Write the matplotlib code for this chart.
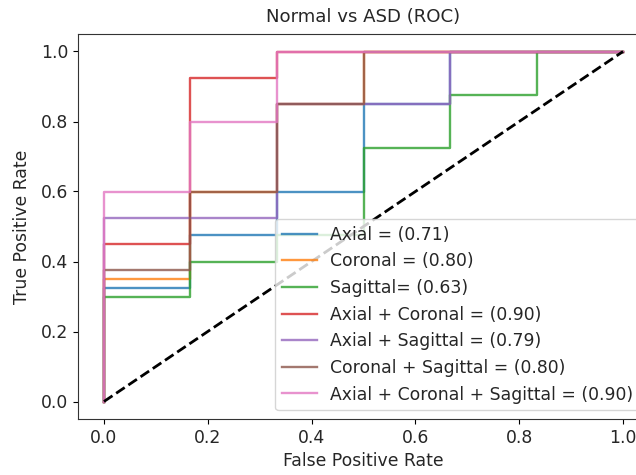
import matplotlib
matplotlib.use("Agg")
import matplotlib.pyplot as plt

# ROC step points (fpr, tpr)
labels = ['Axial = (0.71)', 'Coronal = (0.80)', 'Sagittal= (0.63)',
          'Axial + Coronal = (0.90)', 'Axial + Sagittal = (0.79)',
          'Coronal + Sagittal = (0.80)', 'Axial + Coronal + Sagittal = (0.90)']

fpr_axial = [0, 0, 1/6, 1/6, 1/3, 1/3, 1/2, 1/2, 2/3, 2/3, 1]
tpr_axial = [0, 0.325, 0.325, 0.475, 0.475, 0.6, 0.6, 0.85, 0.85, 1, 1]

fpr_coronal = [0, 0, 1/6, 1/6, 1/3, 1/3, 1/2, 1/2, 1]
tpr_coronal = [0, 0.35, 0.35, 0.6, 0.6, 0.85, 0.85, 1, 1]

fpr_sagittal = [0, 0, 1/6, 1/6, 1/3, 1/3, 1/2, 1/2, 2/3, 2/3, 5/6, 5/6, 1]
tpr_sagittal = [0, 0.3, 0.3, 0.4, 0.4, 0.475, 0.475, 0.725, 0.725, 0.875, 0.875, 1, 1]

fpr_ax_cor = [0, 0, 1/6, 1/6, 1/3, 1/3, 1]
tpr_ax_cor = [0, 0.45, 0.45, 0.925, 0.925, 1, 1]

fpr_ax_sag = [0, 0, 1/3, 1/3, 2/3, 2/3, 1]
tpr_ax_sag = [0, 0.525, 0.525, 0.85, 0.85, 1, 1]

fpr_cor_sag = [0, 0, 1/6, 1/6, 1/3, 1/3, 1/2, 1/2, 1]
tpr_cor_sag = [0, 0.375, 0.375, 0.6, 0.6, 0.85, 0.85, 1, 1]

fpr_all = [0, 0, 1/6, 1/6, 1/3, 1/3, 1]
tpr_all = [0, 0.6, 0.6, 0.8, 0.8, 1, 1]

curves = [(fpr_axial, tpr_axial), (fpr_coronal, tpr_coronal),
          (fpr_sagittal, tpr_sagittal), (fpr_ax_cor, tpr_ax_cor),
          (fpr_ax_sag, tpr_ax_sag), (fpr_cor_sag, tpr_cor_sag),
          (fpr_all, tpr_all)]

plt.rcParams['font.size'] = 12.4
plt.rcParams['text.color'] = '#262626'
plt.rcParams['xtick.labelcolor'] = '#262626'
plt.rcParams['ytick.labelcolor'] = '#262626'
plt.rcParams['axes.labelcolor'] = '#262626'
plt.rcParams['axes.edgecolor'] = '#333333'

fig = plt.figure(figsize=(6.36, 4.75), dpi=100)
ax = fig.add_axes([78/636, 56/475, 571/636, 385/475])

for (f, t), lab in zip(curves, labels):
    ax.plot(f, t, lw=1.7, alpha=0.8, label=lab)
ax.plot([0, 1], [0, 1], 'k--', lw=2)

ax.set_xlim(-0.05, 1.05)
ax.set_ylim(-0.05, 1.05)
ax.set_xlabel('False Positive Rate')
ax.set_ylabel('True Positive Rate', labelpad=7)
ax.set_title('Normal vs ASD (ROC)', fontsize=13.1, pad=9)
ax.legend(loc='lower right')

fig.savefig('out.png', dpi=100)
